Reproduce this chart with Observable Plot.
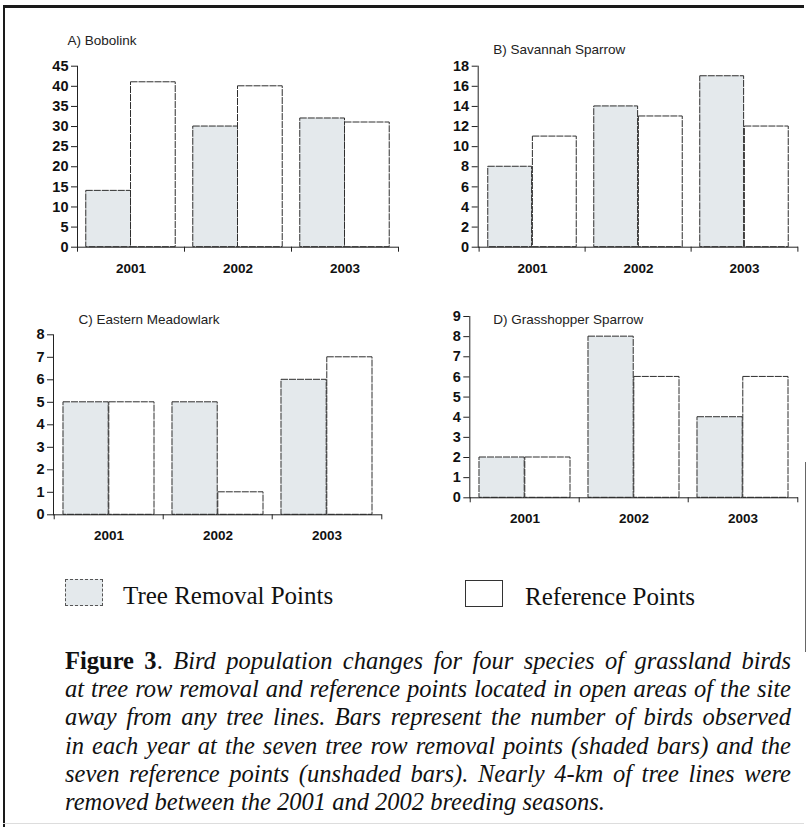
<!DOCTYPE html>
<html>
<head>
<meta charset="utf-8">
<script src="https://cdn.jsdelivr.net/npm/d3@7"></script>
<script src="https://cdn.jsdelivr.net/npm/@observablehq/plot@0.6"></script>
<style>
  body { margin: 0; background: #fff; }
  #fig { position: relative; width: 809px; height: 827px; overflow: hidden; background: #fff;
         font-family: "Liberation Sans", Arial, sans-serif; color: #111; }
  #fig svg { position: absolute; overflow: visible; }
  .line { position: absolute; background: #1a1a1a; }
  .swatch { position: absolute; box-sizing: border-box; }
  .legtext { position: absolute; font-family: "Liberation Serif", "Times New Roman", serif; font-size: 25px;
             line-height: 30px; color: #111; white-space: nowrap; }
  #caption { position: absolute; left: 65px; top: 647px; width: 726px;
             font-family: "Liberation Serif", "Times New Roman", serif; font-size: 24.5px; line-height: 28.2px; color: #111; }
  #caption div { text-align: justify; text-align-last: justify; white-space: nowrap; }
  #caption div.last { text-align-last: left; }
  #caption i { font-style: italic; }
</style>
</head>
<body>
<div id="fig"></div>
<script>
// ---------- data ----------
const years = ["2001", "2002", "2003"];
const seriesLabels = ["Tree Removal Points", "Reference Points"];
const panelTitles = ["A) Bobolink", "B) Savannah Sparrow", "C) Eastern Meadowlark", "D) Grasshopper Sparrow"];

const bobolinkTree = [14, 30, 32];
const bobolinkRef = [41, 40, 31];
const savannahTree = [8, 14, 17];
const savannahRef = [11, 13, 12];
const meadowlarkTree = [5, 5, 6];
const meadowlarkRef = [5, 1, 7];
const grasshopperTree = [2, 8, 4];
const grasshopperRef = [2, 6, 6];

const ticksA = [0, 5, 10, 15, 20, 25, 30, 35, 40, 45];
const ticksB = [0, 2, 4, 6, 8, 10, 12, 14, 16, 18];
const ticksC = [0, 1, 2, 3, 4, 5, 6, 7, 8];
const ticksD = [0, 1, 2, 3, 4, 5, 6, 7, 8, 9];

const captionLines = [
  "Bird population changes for four species of grassland birds",
  "at tree row removal and reference points located in open areas of the site",
  "away from any tree lines. Bars represent the number of birds observed",
  "in each year at the seven tree row removal points (shaded bars) and the",
  "seven reference points (unshaded bars). Nearly 4-km of tree lines were",
  "removed between the 2001 and 2002 breeding seasons."
];

// ---------- layout (page coordinates) ----------
const layout = [
  {left: 0,   top: 20,  width: 405, height: 270, x0: 77,    x1: 398, yTop: 65.7,  yBottom: 246.7, tx: 67,    ty: 40},
  {left: 405, top: 20,  width: 404, height: 270, x0: 477.7, x1: 798, yTop: 65.7,  yBottom: 246.7, tx: 492.7, ty: 49},
  {left: 0,   top: 290, width: 405, height: 270, x0: 53,    x1: 381.7, yTop: 334.3, yBottom: 514.3, tx: 78,  ty: 319},
  {left: 405, top: 290, width: 404, height: 270, x0: 469.3, x1: 798, yTop: 316,   yBottom: 497.3, tx: 492.7, ty: 319}
];

const treeFill = "#e4e9ec";
const barStroke = "#2e2e2e";
const fig = document.getElementById("fig");

function makePanel(cfg, title, tree, ref, yTicks) {
  const rows = years.flatMap((yr, i) => [
    {year: yr, series: seriesLabels[0], value: tree[i]},
    {year: yr, series: seriesLabels[1], value: ref[i]}
  ]);
  const plotW = cfg.x1 - cfg.x0;
  const bw = plotW / years.length;
  const pad = bw * 0.082;
  const barW = (bw - 2 * pad) / 2;
  const svg = Plot.plot({
    width: cfg.width,
    height: cfg.height,
    marginLeft: cfg.x0 - cfg.left,
    marginRight: cfg.left + cfg.width - cfg.x1,
    marginTop: cfg.yTop - cfg.top,
    marginBottom: cfg.top + cfg.height - cfg.yBottom,
    style: {background: "transparent", fontFamily: "'Liberation Sans', Arial, sans-serif", color: "#111", overflow: "visible"},
    x: {domain: years, padding: 0, axis: null, label: null},
    y: {domain: [0, yTicks[yTicks.length - 1]], axis: null, label: null},
    marks: [
      Plot.barY(rows.filter(d => d.series === seriesLabels[0]), {
        x: "year", y: "value", fill: treeFill, stroke: barStroke, strokeWidth: 1, strokeDasharray: "7,1",
        insetLeft: pad, insetRight: pad + barW
      }),
      Plot.barY(rows.filter(d => d.series === seriesLabels[1]), {
        x: "year", y: "value", fill: "#ffffff", stroke: barStroke, strokeWidth: 1, strokeDasharray: "7,1",
        insetLeft: pad + barW, insetRight: pad
      }),
      Plot.ruleY([0], {stroke: "#222", strokeWidth: 1}),
      Plot.frame({anchor: "left", stroke: "#222", strokeWidth: 1}),
      Plot.axisY({ticks: yTicks, tickSize: 6, tickPadding: 3, tickFormat: d => String(d), label: null,
                  fontSize: 14.5, fontWeight: "bold", stroke: "#222"}),
      Plot.axisX({tickSize: 5, dx: -bw / 2, text: null, label: null, stroke: "#222"}),
      Plot.axisX({ticks: [years[years.length - 1]], tickSize: 5, dx: bw / 2, text: null, label: null, stroke: "#222"}),
      Plot.axisX({tickSize: 0, tickPadding: 21, lineAnchor: "middle", label: null,
                  fontSize: 13.5, fontWeight: "bold"}),
      Plot.text([title], {text: d => d, frameAnchor: "top-left", dx: cfg.tx - cfg.x0, dy: cfg.ty - cfg.yTop,
                          textAnchor: "start", lineAnchor: "middle", fontSize: 13.5, fill: "#222"})
    ]
  });
  svg.style.left = cfg.left + "px";
  svg.style.top = cfg.top + "px";
  svg.style.maxWidth = "none";
  fig.appendChild(svg);
}

makePanel(layout[0], panelTitles[0], bobolinkTree, bobolinkRef, ticksA);
makePanel(layout[1], panelTitles[1], savannahTree, savannahRef, ticksB);
makePanel(layout[2], panelTitles[2], meadowlarkTree, meadowlarkRef, ticksC);
makePanel(layout[3], panelTitles[3], grasshopperTree, grasshopperRef, ticksD);

// ---------- legend ----------
function addDiv(cls, styles, html) {
  const d = document.createElement("div");
  d.className = cls;
  Object.assign(d.style, styles);
  if (html != null) d.innerHTML = html;
  fig.appendChild(d);
  return d;
}
addDiv("swatch", {left: "65px", top: "579px", width: "38px", height: "27px", background: treeFill, border: "1px dashed #555"});
addDiv("legtext", {left: "123px", top: "581px"}, seriesLabels[0]);
addDiv("swatch", {left: "465px", top: "580px", width: "38px", height: "27px", background: "#fff", border: "1px solid #333"});
addDiv("legtext", {left: "525px", top: "582px"}, seriesLabels[1]);

// ---------- caption ----------
const cap = addDiv("", {}, "");
cap.id = "caption";
captionLines.forEach((ln, i) => {
  const d = document.createElement("div");
  if (i === captionLines.length - 1) d.className = "last";
  if (i === 0) {
    d.innerHTML = "<b>Figure 3</b>. <i>" + ln + "</i>";
  } else {
    d.innerHTML = "<i>" + ln + "</i>";
  }
  cap.appendChild(d);
});

// ---------- page frame ----------
addDiv("line", {left: "3px", top: "5px", width: "801px", height: "2.5px"});
addDiv("line", {left: "3px", top: "5px", width: "2px", height: "822px"});
addDiv("line", {left: "805px", top: "462px", width: "1px", height: "190px", background: "#666"});
addDiv("line", {left: "3px", top: "823px", width: "801px", height: "1px", background: "#ddd"});
</script>
</body>
</html>
